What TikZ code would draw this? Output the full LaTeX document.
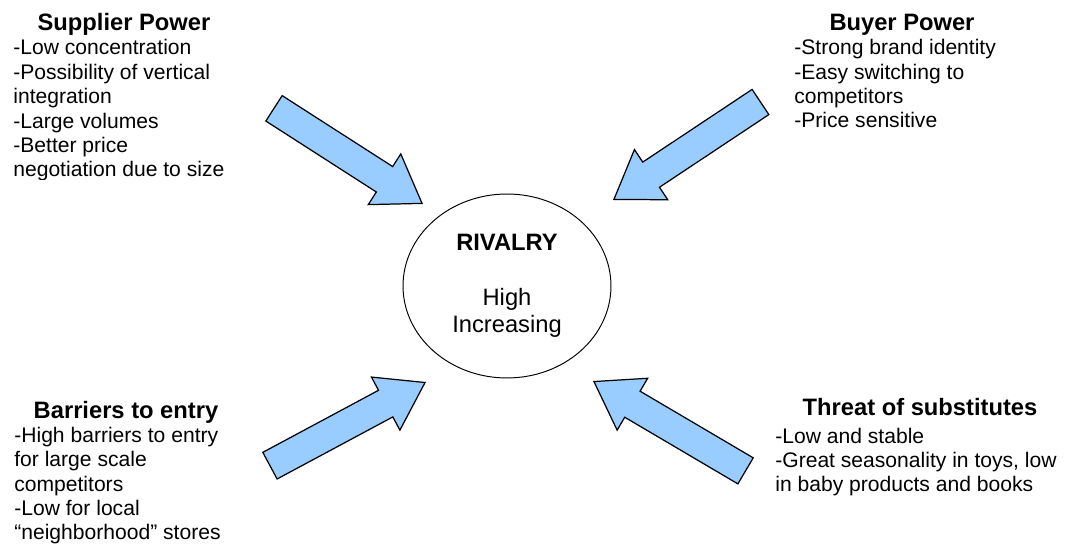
\documentclass[tikz,border=0pt]{standalone}
\usepackage{fontspec}
\setmainfont{Liberation Sans}
\usetikzlibrary{shapes.geometric}
\usetikzlibrary{shapes.arrows}

\definecolor{forceblue}{HTML}{99CCFF}

\begin{document}
\begin{tikzpicture}[x = 0.02cm, y = 0.02cm,
  force/.style = {single arrow, draw, fill = forceblue, line width = 0.7pt,
    minimum height = 3.52cm, inner xsep = 0pt, inner ysep = 0.29cm,
    single arrow head extend = 0.3cm, single arrow tip angle = 68,
    anchor = tip},
  heading/.style = {font = \fontsize{13.5}{15.5}\selectfont\bfseries,
    anchor = base, inner sep = 0pt},
  % lists are placed by the baseline of their last line
  items/.style = {font = \fontsize{12}{13.94}\selectfont, align = left,
    anchor = base west, inner sep = 0pt}]
  \useasboundingbox (0, 0) rectangle (1076, 544);

  % rivalry in the middle
  \node[ellipse, draw, line width = 0.55pt, minimum width = 4.16cm,
  minimum height = 3.68cm, align = center,
  font = \fontsize{13.5}{15.5}\selectfont] (rivalry) at (507, 258)
  {\textbf{RIVALRY}\\[15.5pt]High\\Increasing};

  % the four forces pushing on it
  \node[force, rotate = -32.7] (sup-arrow) at (423, 340) {};
  \node[force, rotate = -146.4] (buy-arrow) at (613, 344) {};
  \node[force, rotate = 28.2] (entry-arrow) at (426, 162) {};
  \node[force, rotate = 149.5] (subst-arrow) at (593, 163) {};

  % supplier power
  \node[heading] (sup-title) at (124, 513) {Supplier Power};
  \begin{scope}
    \clip (0, 364) rectangle (300, 544);
    \node[items] (sup-list) at (13, 367)
    {-Low concentration\\-Possibility of vertical\\integration\\
      -Large volumes\\-Better price\\negotiation due to size};
  \end{scope}

  % buyer power
  \node[heading] (buy-title) at (902, 513) {Buyer Power};
  \node[items] (buy-list) at (794, 416)
  {-Strong brand identity\\-Easy switching to\\competitors\\
    -Price sensitive};

  % barriers to entry
  \node[heading] (entry-title) at (126, 125) {Barriers to entry};
  \node[items] (entry-list) at (14, 4)
  {-High barriers to entry\\for large scale\\competitors\\
    -Low for local\\“neighborhood” stores};

  % substitutes
  \node[heading] (subst-title) at (920, 128) {Threat of substitutes};
  \node[items] (subst-list) at (775, 52)
  {-Low and stable\\-Great seasonality in toys, low\\
    in baby products and books};
\end{tikzpicture}
\end{document}
